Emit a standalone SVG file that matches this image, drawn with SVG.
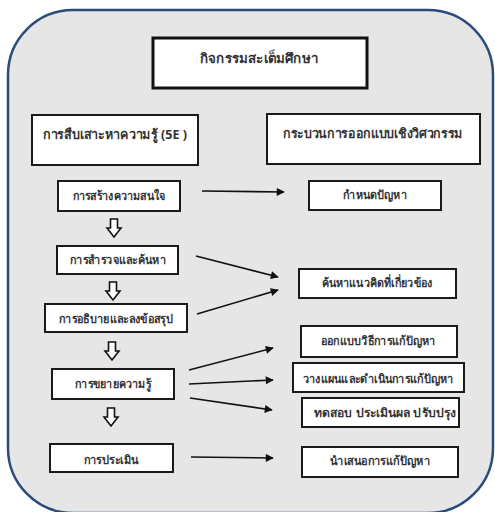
<svg xmlns="http://www.w3.org/2000/svg" width="495" height="512" viewBox="0 0 495 512">
<defs>
<style>
.box{fill:#fff;stroke:#1a1a1a;stroke-width:2}
.thick{fill:#fff;stroke:#111;stroke-width:3}
.t{font-family:"Noto Sans","DejaVu Sans",sans-serif;font-size:12px;font-weight:bold;fill:#333;text-anchor:middle}
.h{font-size:13px}
.con{stroke:#111;stroke-width:1.6;fill:none;marker-end:url(#ah)}
.dn{fill:#fff;stroke:#111;stroke-width:1.6;stroke-linejoin:miter}
</style>
<marker id="ah" viewBox="0 0 10 10" refX="9" refY="5" markerWidth="5.5" markerHeight="5" orient="auto" markerUnits="strokeWidth">
<path d="M0,0 L10,5 L0,10 Z" fill="#111"/>
</marker>
<path id="dnarrow" d="M-3.5,0 H3.5 V9 H7 L0,18 L-7,9 H-3.5 Z"/>
</defs>
<rect x="0" y="0" width="495" height="512" fill="#fff"/>
<rect id="frame" x="8" y="10" width="485" height="503" rx="65" ry="65" fill="#e6e6e6" stroke="#2b4c7a" stroke-width="2.5"/>

<g id="title"><rect class="thick" x="153" y="38" width="214" height="50"/><text class="t h" x="259" y="63" textLength="118" lengthAdjust="spacingAndGlyphs">กิจกรรมสะเต็มศึกษา</text></g>
<g id="head-left"><rect class="box" x="32" y="115" width="166" height="50"/><text class="t h" x="115" y="139" textLength="144" lengthAdjust="spacingAndGlyphs">การสืบเสาะหาความรู้ (5E )</text></g>
<g id="head-right"><rect class="box" x="267" y="114" width="213" height="50"/><text class="t h" x="373" y="138" textLength="180" lengthAdjust="spacingAndGlyphs">กระบวนการออกแบบเชิงวิศวกรรม</text></g>

<g id="l1"><rect class="box" x="58" y="181" width="122" height="30"/><text class="t" x="119" y="200" textLength="93" lengthAdjust="spacingAndGlyphs">การสร้างความสนใจ</text></g>
<g id="l2"><rect class="box" x="57" y="246" width="121" height="28"/><text class="t" x="118" y="264" textLength="96" lengthAdjust="spacingAndGlyphs">การสำรวจและค้นหา</text></g>
<g id="l3"><rect class="box" x="45" y="304" width="142" height="28"/><text class="t" x="116" y="323" textLength="114" lengthAdjust="spacingAndGlyphs">การอธิบายและลงข้อสรุป</text></g>
<g id="l4"><rect class="box" x="52" y="369" width="122" height="30"/><text class="t" x="113" y="388" textLength="76" lengthAdjust="spacingAndGlyphs">การขยายความรู้</text></g>
<g id="l5"><rect class="box" x="50" y="444" width="123" height="28"/><text class="t" x="111" y="464" textLength="55" lengthAdjust="spacingAndGlyphs">การประเมิน</text></g>

<g id="r1"><rect class="box" x="309" y="181" width="132" height="29"/><text class="t" x="375" y="199" textLength="64" lengthAdjust="spacingAndGlyphs">กำหนดปัญหา</text></g>
<g id="r2"><rect class="box" x="299" y="269" width="157" height="29"/><text class="t" x="377" y="287" textLength="111" lengthAdjust="spacingAndGlyphs">ค้นหาแนวคิดที่เกี่ยวข้อง</text></g>
<g id="r3"><rect class="box" x="301" y="326" width="156" height="31"/><text class="t" x="378" y="345" textLength="115" lengthAdjust="spacingAndGlyphs">ออกแบบวิธีการแก้ปัญหา</text></g>
<g id="r4"><rect class="box" x="293" y="363" width="171" height="29"/><text class="t" x="378" y="383" textLength="151" lengthAdjust="spacingAndGlyphs">วางแผนและดำเนินการแก้ปัญหา</text></g>
<g id="r5"><rect class="box" x="302" y="398" width="157" height="29"/><text class="t" x="385" y="417" textLength="142" lengthAdjust="spacingAndGlyphs">ทดสอบ ประเมินผล ปรับปรุง</text></g>
<g id="r6"><rect class="box" x="302" y="447" width="156" height="30"/><text class="t" x="380" y="465" textLength="100" lengthAdjust="spacingAndGlyphs">นำเสนอการแก้ปัญหา</text></g>

<g id="connectors">
<use href="#dnarrow" class="dn" x="114" y="219"/>
<use href="#dnarrow" class="dn" x="113" y="282"/>
<use href="#dnarrow" class="dn" x="112" y="342"/>
<use href="#dnarrow" class="dn" x="111" y="408"/>
<line class="con" x1="202" y1="191" x2="284" y2="192"/>
<line class="con" x1="196" y1="256" x2="278" y2="277"/>
<line class="con" x1="197" y1="314" x2="278" y2="290"/>
<line class="con" x1="189" y1="370" x2="273" y2="348"/>
<line class="con" x1="189" y1="384" x2="273" y2="380"/>
<line class="con" x1="190" y1="398" x2="272" y2="410"/>
<line class="con" x1="191" y1="457" x2="273" y2="458"/>
</g>
</svg>
